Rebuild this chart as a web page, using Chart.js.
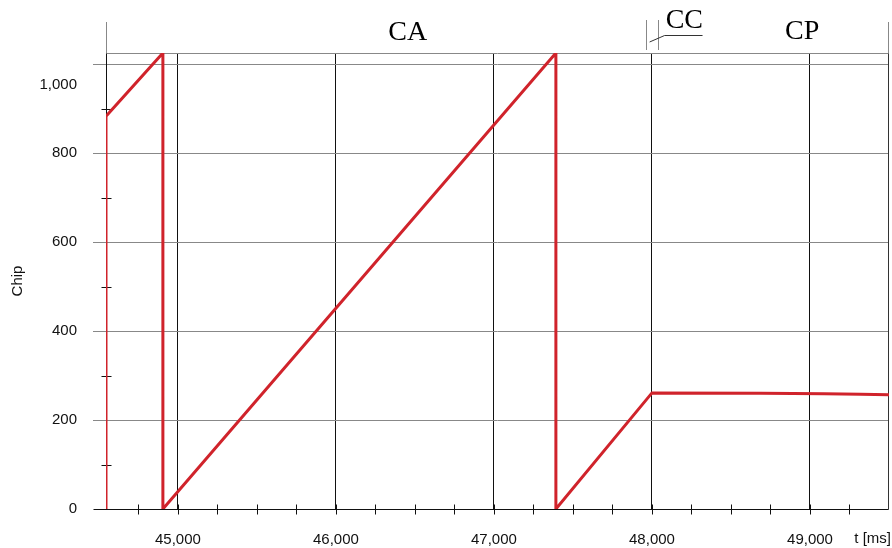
<!DOCTYPE html>
<html>
<head>
<meta charset="utf-8">
<title>Chip</title>
<script src="https://cdn.jsdelivr.net/npm/chart.js@4"></script>
<style>
  html, body { margin: 0; padding: 0; background: #fff; }
  #wrap { width: 892px; height: 548px; }
</style>
</head>
<body>
<div id="wrap"><canvas id="chart" width="892" height="548"></canvas></div>
<script>
// chip counter over time
const tValues    = [44545, 44545, 44905, 44905, 47392, 47392, 48000, 48690, 49090, 49320, 49500];
const chipValues = [0,     883,   1025,  0,     1025,  0,     261,   260,   259,   258,   257];

// axis ticks
const xMajorTicks = [45000, 46000, 47000, 48000, 49000];
const xMinorTicks = [44750, 45250, 45500, 45750, 46250, 46500, 46750, 47250, 47500, 47750, 48250, 48500, 48750, 49250];
const yMajorTicks = [0, 200, 400, 600, 800, 1000];
const yMinorTicks = [100, 300, 500, 700, 900];

// phase labels in the header band
const phaseNames = ['CA', 'CC', 'CP'];

const RED = '#d0232b';
const SANS = '"Liberation Sans", Arial, sans-serif';
const SERIF = '"Liberation Serif", "Times New Roman", serif';

const xTickValues = xMajorTicks.concat(xMinorTicks).sort((a, b) => a - b);
const yTickValues = yMajorTicks.concat(yMinorTicks).sort((a, b) => a - b);

function line(ctx, x1, y1, x2, y2, color, w) {
  ctx.beginPath();
  ctx.strokeStyle = color;
  ctx.lineWidth = w || 1;
  ctx.moveTo(x1, y1);
  ctx.lineTo(x2, y2);
  ctx.stroke();
}

// frame, axis lines and small cross ticks (under the data line)
const framePlugin = {
  id: 'frame',
  beforeDatasetsDraw(chart) {
    const { ctx, chartArea: a, scales } = chart;
    const L = Math.round(a.left) + 0.5, R = Math.round(a.right) - 0.5;
    const T = Math.round(a.top) + 0.5, B = Math.round(a.bottom) + 0.5;
    ctx.save();
    line(ctx, L, T, R, T, '#888');
    line(ctx, L, 22, L, T, '#888');
    line(ctx, R, 22, R, T, '#888');
    line(ctx, L, T, L, B, '#111');
    line(ctx, R, T, R, B, '#333');
    line(ctx, L - 13, B, R, B, '#111');
    xTickValues.forEach(v => {
      const x = Math.round(scales.x.getPixelForValue(v)) + 0.5;
      line(ctx, x, B - 5, x, B + 5, '#111');
    });
    yMinorTicks.forEach(v => {
      const y = Math.round(scales.y.getPixelForValue(v)) + 0.5;
      line(ctx, L - 5, y, L + 5, y, '#111');
    });
    ctx.restore();
  },
  afterDraw(chart) {
    const { ctx, chartArea: a, scales } = chart;
    const xs = scales.x;
    ctx.save();
    ctx.fillStyle = '#000';
    ctx.font = '28px ' + SERIF;
    ctx.textAlign = 'center';
    ctx.textBaseline = 'alphabetic';
    ctx.fillText(phaseNames[0], xs.getPixelForValue(46455), 40);
    ctx.fillText(phaseNames[2], xs.getPixelForValue(48950), 39);
    // CC marker: two short bounds, a leader and an underlined label
    const c1 = Math.round(xs.getPixelForValue(47960)) + 0.5;
    const c2 = Math.round(xs.getPixelForValue(48040)) + 0.5;
    line(ctx, c1, 20, c1, 50, '#888');
    line(ctx, c2, 20, c2, 50, '#888');
    const s1 = xs.getPixelForValue(47985), s2 = xs.getPixelForValue(48080);
    line(ctx, s1, 42, s2, 35.5, '#333');
    line(ctx, s2, 35.5, xs.getPixelForValue(48320), 35.5, '#333');
    ctx.fillText(phaseNames[1], xs.getPixelForValue(48205), 28);
    // x axis title, on the tick label line
    ctx.font = '15px ' + SANS;
    ctx.textAlign = 'right';
    ctx.textBaseline = 'middle';
    ctx.fillStyle = '#111';
    ctx.fillText('t [ms]', 891, 539);
    ctx.restore();
  }
};

const ctx = document.getElementById('chart');
new Chart(ctx, {
  type: 'line',
  data: {
    datasets: [{
      data: tValues.map((t, i) => ({ x: t, y: chipValues[i] })),
      borderColor: RED,
      borderWidth: 3,
      pointRadius: 0,
      tension: 0,
      fill: false
    }]
  },
  options: {
    responsive: false,
    animation: false,
    layout: { padding: { top: 53, right: 3, left: 0, bottom: 0 } },
    plugins: { legend: { display: false }, tooltip: { enabled: false } },
    scales: {
      x: {
        type: 'linear',
        min: 44545,
        max: 49500,
        afterBuildTicks: s => { s.ticks = xTickValues.map(v => ({ value: v })); },
        afterFit: s => { s.height = 39; },
        border: { display: false },
        grid: {
          color: c => xMajorTicks.includes(c.tick && c.tick.value) ? '#111' : 'rgba(0,0,0,0)',
          lineWidth: 1,
          tickLength: 5,
          tickColor: 'rgba(0,0,0,0)'
        },
        ticks: {
          autoSkip: false,
          maxRotation: 0,
          padding: 17,
          color: '#111',
          font: { family: SANS, size: 15 },
          callback: v => xMajorTicks.includes(v) ? v.toLocaleString('en-US') : ''
        }
      },
      y: {
        min: 0,
        max: 1025,
        afterBuildTicks: s => { s.ticks = yTickValues.map(v => ({ value: v })); },
        afterFit: s => { s.width = 106; },
        border: { display: false },
        grid: {
          color: c => {
            const v = c.tick && c.tick.value;
            return yMajorTicks.includes(v) && v > 0 ? '#888' : 'rgba(0,0,0,0)';
          },
          lineWidth: 1,
          tickLength: 13,
          tickColor: c => {
            const v = c.tick && c.tick.value;
            return yMajorTicks.includes(v) && v > 0 ? '#888' : 'rgba(0,0,0,0)';
          }
        },
        ticks: {
          autoSkip: false,
          padding: 16,
          color: '#111',
          font: { family: SANS, size: 15, lineHeight: 1.4 },
          // the top label sits a line below its grid line in the original
          callback: v => {
            if (!yMajorTicks.includes(v)) return '';
            const s = v.toLocaleString('en-US');
            return v === 1000 ? ['', '', s] : s;
          }
        },
        title: {
          display: true,
          text: 'Chip',
          color: '#111',
          font: { family: SANS, size: 15 },
          padding: { top: 9, bottom: 0 }
        }
      }
    }
  },
  plugins: [framePlugin]
});
</script>
</body>
</html>
